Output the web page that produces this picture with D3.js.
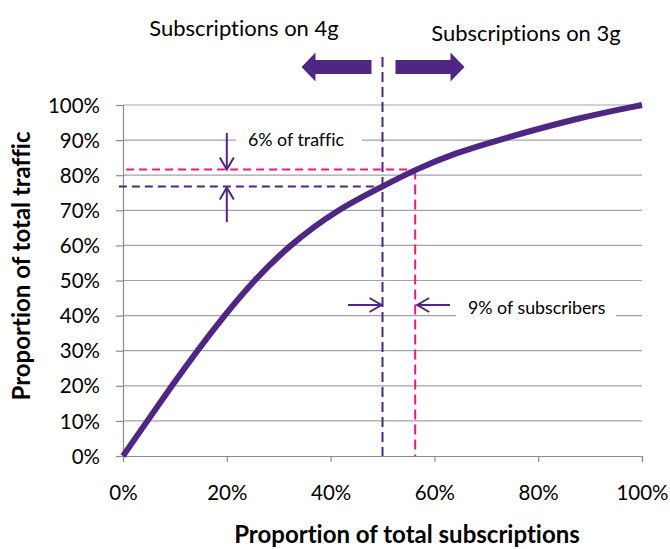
<!DOCTYPE html>
<html>
<head>
<meta charset="utf-8">
<script src="https://cdn.jsdelivr.net/npm/d3@7"></script>
<style>
  html, body { margin: 0; padding: 0; background: #fff; }
  svg { display: block; font-family: Lato, "Open Sans", sans-serif; font-variant-ligatures: none; }
</style>
</head>
<body>
<svg id="chart" width="670" height="549"></svg>
<script>
// Cumulative share of traffic (y) against cumulative share of subscriptions (x), in percent
const subscriptionShare = [0, 4.7, 9.4, 14.3, 19.5, 25.2, 32.0, 41.0, 50, 56.3, 64, 72.2, 87.8, 100];
const trafficShare      = [0, 10, 20, 30, 40, 50, 60, 70, 76.8, 81.6, 86.3, 90, 96.4, 100];

// Split points between 4g and 3g subscribers
const split4g = { subs: 50, traffic: 76.8 };
const split3g = { subs: 56.3, traffic: 81.6 };

const xTicks = [0, 20, 40, 60, 80, 100];
const yTicks = [0, 10, 20, 30, 40, 50, 60, 70, 80, 90, 100];

const labels = {
  left: "Subscriptions on 4g",
  right: "Subscriptions on 3g",
  traffic: "6% of traffic",
  subscribers: "9% of subscribers",
  xTitle: "Proportion of total subscriptions",
  yTitle: "Proportion of total traffic"
};

const purple = "#4f2683";
const pink = "#e8198b";
const grid = "#a3a3a3";

const svg = d3.select("#chart");
const x = d3.scaleLinear().domain([0, 100]).range([123, 642]);
const y = d3.scaleLinear().domain([0, 100]).range([456, 105]);

// Gridlines
svg.append("g").selectAll("line").data(yTicks.filter(d => d > 0)).join("line")
  .attr("x1", x(0)).attr("x2", x(100))
  .attr("y1", d => y(d)).attr("y2", d => y(d))
  .attr("stroke", grid).attr("stroke-width", 1.2);

// Axes
const xAxis = svg.append("g").attr("transform", `translate(0,${y(0)})`)
  .call(d3.axisBottom(x).tickValues(xTicks).tickFormat(d => d + "%").tickSize(6).tickPadding(23));
const yAxis = svg.append("g").attr("transform", `translate(${x(0)},0)`)
  .call(d3.axisLeft(y).tickValues(yTicks).tickFormat(d => d + "%").tickSize(7).tickPadding(16));
[xAxis, yAxis].forEach(g => {
  g.select(".domain").attr("stroke", "#8c8c8c").attr("stroke-width", 1.2);
  g.selectAll(".tick line").attr("stroke", "#8c8c8c").attr("stroke-width", 1.2);
  g.selectAll("text").attr("fill", "#000").style("font-size", "20.5px")
    .style("font-family", "Lato, 'Open Sans', sans-serif");
});
yAxis.selectAll("text").attr("dy", "0.35em");
xAxis.selectAll("text").attr("dy", "0.71em");

// Label boxes that interrupt gridlines
svg.append("rect").attr("x", 236).attr("y", 128).attr("width", 126).attr("height", 24).attr("fill", "#fff");
svg.append("rect").attr("x", 456).attr("y", 296).attr("width", 160).attr("height", 24).attr("fill", "#fff");

// Dashed reference lines
const dash = "8,5";
svg.append("line")
  .attr("x1", x(-0.8)).attr("x2", x(split4g.subs))
  .attr("y1", y(split4g.traffic)).attr("y2", y(split4g.traffic))
  .attr("stroke", purple).attr("stroke-width", 2).attr("stroke-dasharray", dash);
svg.append("line")
  .attr("x1", x(0.6)).attr("x2", x(split3g.subs))
  .attr("y1", y(split3g.traffic)).attr("y2", y(split3g.traffic))
  .attr("stroke", pink).attr("stroke-width", 2).attr("stroke-dasharray", dash);
svg.append("line")
  .attr("x1", x(split4g.subs)).attr("x2", x(split4g.subs))
  .attr("y1", 57).attr("y2", y(0))
  .attr("stroke", purple).attr("stroke-width", 2).attr("stroke-dasharray", "10,5");
svg.append("line")
  .attr("x1", x(split3g.subs)).attr("x2", x(split3g.subs))
  .attr("y1", y(split3g.traffic)).attr("y2", y(0))
  .attr("stroke", pink).attr("stroke-width", 2).attr("stroke-dasharray", "10,5");

// Distribution curve
const pts = subscriptionShare.map((s, i) => [s, trafficShare[i]]);
svg.append("path")
  .attr("d", d3.line().x(d => x(d[0])).y(d => y(d[1])).curve(d3.curveBasis)(pts))
  .attr("fill", "none").attr("stroke", purple).attr("stroke-width", 6).attr("stroke-linecap", "butt");

// Small pointer arrows
function arrow(x1, y1, x2, y2) {
  const ang = Math.atan2(y2 - y1, x2 - x1);
  const L = 12, W = 7;
  const bx = x2 - L * Math.cos(ang), by = y2 - L * Math.sin(ang);
  const px = -Math.sin(ang) * W, py = Math.cos(ang) * W;
  svg.append("line").attr("x1", x1).attr("y1", y1).attr("x2", x2).attr("y2", y2)
    .attr("stroke", purple).attr("stroke-width", 2);
  svg.append("path")
    .attr("d", `M${bx + px},${by + py}L${x2},${y2}L${bx - px},${by - py}`)
    .attr("fill", "none").attr("stroke", purple).attr("stroke-width", 2);
}
const ax = x(20);
arrow(ax, 133, ax, y(split3g.traffic));
arrow(ax, 222, ax, y(split4g.traffic) + 1);
arrow(348, 305, x(split4g.subs) - 1, 305);
arrow(450, 305, x(split3g.subs) + 2, 305);

// Large direction arrows at the top
const xs = x(split4g.subs);
const bigArrows = [
  [[xs - 81, 67], [xs - 67, 52.5], [xs - 67, 60], [xs - 11, 60], [xs - 11, 74], [xs - 67, 74], [xs - 67, 81.5]],
  [[xs + 82, 67], [xs + 68, 52.5], [xs + 68, 60], [xs + 13, 60], [xs + 13, 74], [xs + 68, 74], [xs + 68, 81.5]]
];
svg.append("g").selectAll("path").data(bigArrows).join("path")
  .attr("d", d => "M" + d.join("L") + "Z").attr("fill", purple);

// Text
const txt = (t, xx, yy, size, opts = {}) => svg.append("text")
  .attr("x", xx).attr("y", yy).attr("dy", "0.35em")
  .attr("text-anchor", opts.anchor || "start")
  .attr("font-weight", opts.bold ? "bold" : "normal")
  .style("font-size", size + "px").attr("fill", "#000").text(t);

txt(labels.left, 244, 28, 22, { anchor: "middle" });
txt(labels.right, 526, 33, 22, { anchor: "middle" });
txt(labels.traffic, 248, 140, 17.8);
txt(labels.subscribers, 468, 308, 17.8);
txt(labels.xTitle, 407, 535, 24, { anchor: "middle", bold: true });
txt(labels.yTitle, 0, 0, 24, { anchor: "middle", bold: true })
  .attr("transform", "translate(22,266) rotate(-90)");
</script>
</body>
</html>
